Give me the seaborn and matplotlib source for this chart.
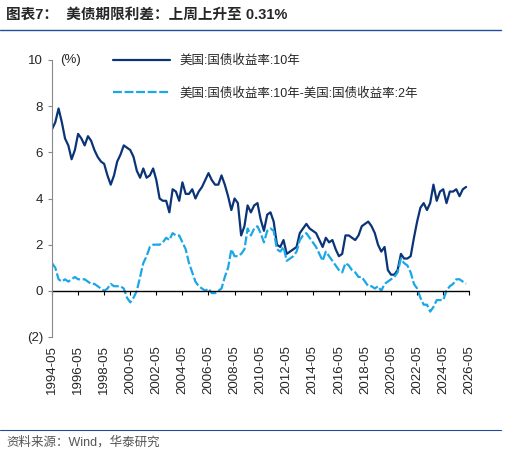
import matplotlib
matplotlib.use("Agg")
import matplotlib.pyplot as plt
import seaborn as sns
import numpy as np
import pandas as pd

sns.set_style("white")
plt.rcParams['font.family'] = ['Liberation Sans', 'Noto Sans CJK SC', 'DejaVu Sans']

# quarterly observations starting 1994-05
yield10 = [7.0,7.3,7.9,7.3,6.6,6.3,5.7,6.1,6.8,6.6,6.3,6.7,6.5,6.1,5.8,5.6,5.5,5.0,4.6,5.0,
           5.6,5.9,6.3,6.2,6.1,5.8,5.2,4.9,5.3,4.9,5.0,5.3,4.8,4.0,3.9,3.9,3.4,4.4,4.3,3.9,
           4.7,4.2,4.2,4.4,4.0,4.3,4.5,4.8,5.1,4.8,4.6,4.6,5.0,4.6,4.1,3.5,4.0,3.8,2.4,2.8,
           3.7,3.4,3.7,3.8,3.1,2.6,3.3,3.4,3.0,2.0,1.9,2.2,1.6,1.7,1.8,1.9,2.5,2.7,2.9,2.7,
           2.6,2.5,2.2,1.9,2.3,2.1,2.2,1.8,1.5,1.6,2.4,2.4,2.3,2.2,2.4,2.8,2.9,3.0,2.8,2.5,
           2.0,1.7,1.9,0.9,0.7,0.7,0.9,1.6,1.4,1.4,1.5,2.3,3.0,3.6,3.8,3.5,3.8,4.6,3.9,4.3,
           4.4,3.8,4.3,4.3,4.4,4.1,4.4,4.5]
spread = [1.2,1.0,0.5,0.4,0.5,0.4,0.5,0.6,0.5,0.5,0.5,0.4,0.3,0.3,0.2,0.1,0.0,0.1,0.3,0.2,
          0.2,0.2,0.1,-0.3,-0.5,-0.3,0.0,0.6,1.2,1.5,1.9,2.0,2.0,2.0,2.1,2.3,2.2,2.5,2.4,2.4,
          2.1,1.8,1.2,0.8,0.4,0.2,0.1,0.0,0.1,-0.1,-0.1,0.0,0.1,0.6,1.0,1.8,1.5,1.5,1.6,1.8,
          2.7,2.4,2.7,2.8,2.5,2.1,2.6,2.7,2.6,1.8,1.7,1.9,1.3,1.4,1.5,1.7,2.2,2.4,2.5,2.3,
          2.1,1.9,1.6,1.3,1.7,1.5,1.3,1.1,0.9,0.8,1.2,1.1,0.9,0.8,0.6,0.6,0.4,0.2,0.2,0.1,
          0.2,0.0,0.3,0.4,0.5,0.6,0.8,1.4,1.2,1.1,0.8,0.3,0.1,-0.3,-0.6,-0.6,-0.9,-0.7,-0.4,-0.4,
          -0.4,0.0,0.2,0.3,0.5,0.5,0.4,0.31]
tick_labels = [f"{y}-05" for y in range(1994, 2027, 2)]

dates = pd.date_range("1994-05-01", periods=len(yield10), freq="3MS")
df = pd.DataFrame({"date": dates, "y10": yield10, "sp": spread})

fig = plt.figure(figsize=(5.06, 4.54), dpi=100)
ax = fig.add_axes([52/506, 1-337/454, 418/506, 277/454])
sns.lineplot(data=df, x="date", y="y10", ax=ax, color="#0b3478", lw=1.6,
             label="美国:国债收益率:10年")
sns.lineplot(data=df, x="date", y="sp", ax=ax, color="#1aa7e8", lw=1.6, ls=(0, (4, 1.2)),
             label="美国:国债收益率:10年-美国:国债收益率:2年")

ticks = pd.to_datetime([f"{y}-05-01" for y in range(1994, 2027, 2)])
ax.set_xlim(ticks[0], ticks[-1] + pd.Timedelta(days=20))
ax.set_ylim(-2, 10)
ax.set_yticks([-2, 0, 2, 4, 6, 8, 10])
ax.set_yticklabels(["(2)", "0", "2", "4", "6", "8", "10"], fontsize=9.5)
ax.set_xticks(ticks)
ax.set_xticklabels(tick_labels, rotation=90, fontsize=9.5)
ax.tick_params(axis='x', length=0, pad=6)
ax.tick_params(axis='y', length=3, left=True, color="#888888", direction="out")
for s in ["top", "right", "bottom"]:
    ax.spines[s].set_visible(False)
ax.spines["left"].set_color("#888888")
ax.axhline(0, color="black", lw=1)
sec = ax.secondary_xaxis(1/6)
sec.set_xticks(ticks)
sec.set_xticklabels([])
sec.tick_params(length=3, direction="out", color="black")
sec.spines["bottom"].set_visible(False)
ax.set_xlabel(""); ax.set_ylabel("")
ax.text(0.02, 1.0, "(%)", transform=ax.transAxes, fontsize=9.5, va="center")
ax.legend(loc="upper left", bbox_to_anchor=(0.12, 1.06), frameon=False, fontsize=9,
          handlelength=4.5, labelspacing=1.6)

fig.text(0.012, 0.968, "图表7：  美债期限利差：上周上升至 0.31%", fontsize=10.5, fontweight="bold", va="center")
fig.add_artist(plt.Line2D([0.0, 0.99], [0.935, 0.935], color="#1f4e9a", lw=1))
fig.add_artist(plt.Line2D([0.0, 0.99], [0.052, 0.052], color="#1f4e9a", lw=0.8))
fig.text(0.012, 0.025, "资料来源：Wind，华泰研究", fontsize=9, color="#555555", va="center")
fig.savefig("out.png", dpi=100)
